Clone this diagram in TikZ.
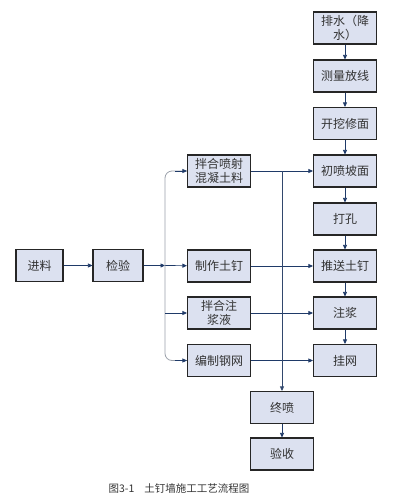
\documentclass[tikz,border=0pt]{standalone}
\usepackage{fontspec}
\newfontfamily\cjk{Noto Sans CJK SC}
\usetikzlibrary{arrows.meta}
\definecolor{boxfill}{HTML}{DCE1F0}
\definecolor{arrowc}{HTML}{1F3A68}
\definecolor{busc}{HTML}{9AA0AA}
\begin{document}
\begin{tikzpicture}[x=1pt,y=-1pt,
  stepbox/.style={draw=black!85,line width=1.1pt,fill=boxfill,minimum width=63pt,minimum height=32pt,inner sep=1pt,align=center,font=\cjk\fontsize{12}{14.5}\selectfont,text=black!80},
  arr/.style={draw=arrowc,line width=0.7pt,-{Triangle[length=4.5pt,width=4pt]}},
  busline/.style={draw=busc,line width=0.8pt}]
\path[use as bounding box] (0,0) rectangle (400,504);
% right column
\node[stepbox] (ps) at (345,28) {排水（降\\水）};
\node[stepbox] (cl) at (345,76) {测量放线};
\node[stepbox] (kw) at (345,123.5) {开挖修面};
\node[stepbox] (cp) at (345,171) {初喷坡面};
\node[stepbox] (dk) at (345,219) {打孔};
\node[stepbox] (ts) at (345,266) {推送土钉};
\node[stepbox] (zj) at (345,313) {注浆};
\node[stepbox] (gw) at (345,360.5) {挂网};
% middle column
\node[stepbox] (b1) at (219,171) {拌合喷射\\混凝土料};
\node[stepbox] (zz) at (219,266) {制作土钉};
\node[stepbox] (b2) at (219,313) {拌合注\\浆液};
\node[stepbox] (bz) at (219,360.5) {编制钢网};
% left
\node[stepbox,minimum width=47pt] (jl) at (39.5,265.5) {进料};
\node[stepbox,minimum width=50pt] (jy) at (118,265.5) {检验};
% bottom
\node[stepbox] (zp) at (282,407.5) {终喷};
\node[stepbox] (ys) at (282,454) {验收};
\coordinate (bus) at (165,265.5);
% caption
\node[font=\cjk\fontsize{10.5}{12}\selectfont,text=black!80,anchor=west] (cap) at (105,488) {图3-1\hspace{10pt}土钉墙施工工艺流程图};
% right column arrows
\draw[arr] (ps) -- (cl);
\draw[arr] (cl) -- (kw);
\draw[arr] (kw) -- (cp);
\draw[arr] (cp) -- (dk);
\draw[arr] (dk) -- (ts);
\draw[arr] (ts) -- (zj);
\draw[arr] (zj) -- (gw);
\draw[arr] (zp) -- (ys);
% left
\draw[arr] (jl) -- (jy);
\draw[arr] (jy) -- (bus);
\draw[arr] (bus) -- (zz);
% bus
\draw[busline,rounded corners=7pt] (bus) |- (b1.west);
\draw[busline,rounded corners=7pt] (bus) |- (bz.west);
\draw[arr] ([xshift=-12pt]b1.west) -- (b1.west);
\draw[arr] ([xshift=-12pt]bz.west) -- (bz.west);
\draw[arr] (bus |- b2.west) -- (b2.west);
% middle to right
\draw[arr] (b1) -- (cp);
\draw[arr] (zz) -- (ts);
\draw[arr] (b2) -- (zj);
\draw[arr] (bz) -- (gw);
% vertical to final spray
\draw[arr,draw=arrowc!80!gray] (zp.north |- b1.east) -- (zp.north);
\end{tikzpicture}
\end{document}
